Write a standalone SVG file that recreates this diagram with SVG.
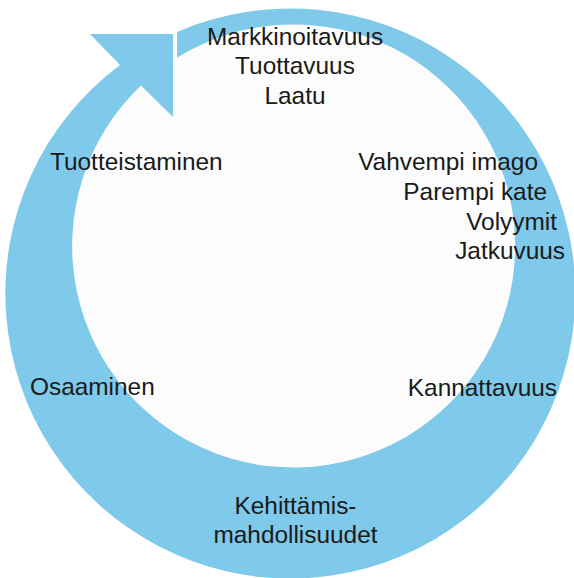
<svg xmlns="http://www.w3.org/2000/svg" width="574" height="578" viewBox="0 0 574 578">
  <style>
    .ring { fill: #7fc9eb; }
    .lbl { font-family: "Liberation Sans", Arial, sans-serif; font-size: 24.4px; fill: #1a1a1a; }
    .c { text-anchor: middle; }
    .e { text-anchor: end; }
  </style>
  <rect x="0" y="0" width="574" height="578" fill="#ffffff"/>
  <g id="cycle-arrow">
    <circle cx="294.5" cy="245.5" r="221.5" fill="#fcfcfc"/>
    <path class="ring" d="M177,32 A285,285 0 1 1 120,65 L90,34 L173,34 L173,117 L141,85.5 A221.5,221.5 0 1 0 177,57.7 Z"/>
  </g>
  <g id="node-top">
    <text class="lbl c" x="295" y="45">Markkinoitavuus</text>
    <text class="lbl c" x="295" y="74">Tuottavuus</text>
    <text class="lbl c" x="295" y="104">Laatu</text>
  </g>
  <g id="node-right">
    <text class="lbl e" x="538" y="170">Vahvempi imago</text>
    <text class="lbl e" x="547" y="200">Parempi kate</text>
    <text class="lbl e" x="557" y="230">Volyymit</text>
    <text class="lbl e" x="565" y="259">Jatkuvuus</text>
  </g>
  <g id="node-kannattavuus">
    <text class="lbl e" x="557" y="396">Kannattavuus</text>
  </g>
  <g id="node-bottom">
    <text class="lbl c" x="295.5" y="514">Kehittämis-</text>
    <text class="lbl c" x="295.5" y="543">mahdollisuudet</text>
  </g>
  <g id="node-osaaminen">
    <text class="lbl" x="30" y="395">Osaaminen</text>
  </g>
  <g id="node-tuotteistaminen">
    <text class="lbl" x="50" y="170">Tuotteistaminen</text>
  </g>
  <g id="connectors"></g>
</svg>
